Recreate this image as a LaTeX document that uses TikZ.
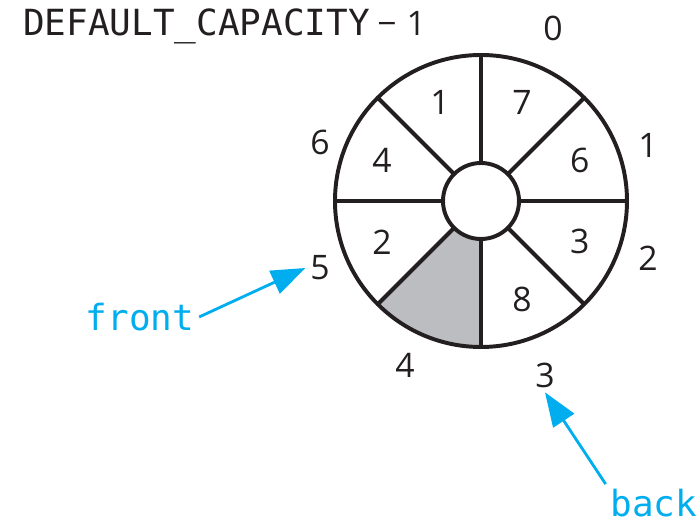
\documentclass[tikz,border=0pt]{standalone}
\usepackage{fontspec}
\setmainfont{Open Sans}
\setmonofont{DejaVu Sans Mono}
\usetikzlibrary{arrows.meta, positioning}

\definecolor{slotgray}{RGB}{188,189,193}
\definecolor{ptrblue}{RGB}{0,174,239}
\definecolor{ink}{RGB}{35,31,32}

\begin{document}
\begin{tikzpicture}[
x=0.025cm, y=0.025cm,
ring/.style={draw=ink, line width=2.8pt},
slot/.style={text=ink, font=\fontsize{24}{24}\selectfont},
index/.style={text=ink, font=\fontsize{24}{24}\selectfont},
tag/.style={text=ptrblue, font=\fontsize{25.6}{26}\ttfamily},
pointer/.style={-{Triangle[length=0.85cm, width=0.62cm]}, line width=2pt, ptrblue}
]

\useasboundingbox (-481,-322) rectangle (219,201);

% empty slot
\fill[slotgray] (-90:38) -- (-90:146) arc[start angle=-90, end angle=-135, radius=146]
  -- (-135:38) arc[start angle=-135, end angle=-90, radius=38] -- cycle;

% the ring
\draw[ring] (0,0) circle (146);
\draw[ring] (0,0) circle (38);
\foreach \a in {0,45,...,315}
  \draw[ring] (\a:38) -- (\a:146);

% values
\foreach \i/\a/\v in {0/67.5/7, 1/22.5/6, 2/-22.5/3, 3/-67.5/8, 5/-157.5/2, 6/157.5/4, 7/112.5/1}
  \node[slot] (slot\i) at (\a:107) {\v};

% indexes
\node[index, anchor=east] (idxlast) at (-50,175)
  {{\fontsize{25.6}{26}\ttfamily DEFAULT\_CAPACITY}\hspace{0.22em}−\hspace{0.3em}1};
\node[index] (idx0) at (72,173) {0};
\node[index] (idx1) at (167,56) {1};
\node[index] (idx2) at (167,-57) {2};
\node[index] (idx3) at (64,-174) {3};
\node[index] (idx4) at (-76,-164) {4};
\node[index] (idx5) at (-161,-67) {5};
\node[index] (idx6) at (-161,59) {6};

% front and back
\node[tag] (front) at (-341,-116) {front};
\node[tag] (back) at (173,-302) {back};

\draw[pointer] (front.east) -- (idx5.west);
\draw[pointer] (back.north west) -- (idx3.south);

\end{tikzpicture}
\end{document}
